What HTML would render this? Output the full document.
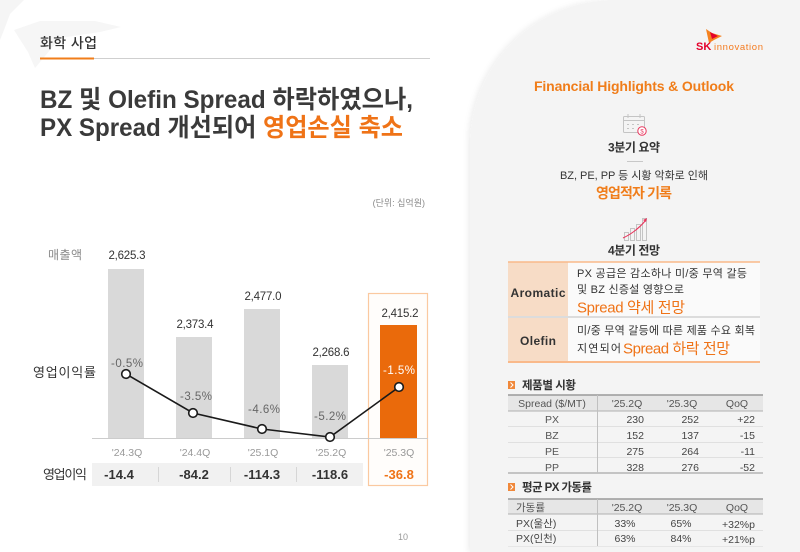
<!DOCTYPE html>
<html><head><meta charset="utf-8">
<style>
html,body{margin:0;padding:0;background:#fff;}
svg{display:block;}
text{font-family:"Liberation Sans","Noto Sans CJK KR",sans-serif;}
</style></head>
<body>
<svg width="800" height="552" viewBox="0 0 800 552" xmlns="http://www.w3.org/2000/svg">
<defs>
<filter id="sh" x="-10%" y="-10%" width="120%" height="120%">
<feDropShadow dx="-2" dy="0" stdDeviation="3" flood-color="#000" flood-opacity="0.07"/>
</filter>
</defs>
<rect width="800" height="552" fill="#fff"/>
<!-- watermark -->
<polygon points="0,0 24,0 10,14 4,30 0,40" fill="#f5f5f5"/>
<polygon points="14,30 40,21 95,21 121,27 100,32 60,38 35,68 28,52" fill="#f6f6f6"/>

<!-- header -->
<text x="40" y="48" font-size="14" fill="#333" font-weight="500" textLength="57">화학 사업</text>
<line x1="40" y1="58.5" x2="430" y2="58.5" stroke="#cfcfcf" stroke-width="1"/>
<line x1="40" y1="58.5" x2="94" y2="58.5" stroke="#f07d1a" stroke-width="2"/>

<!-- title -->
<text x="40" y="108" font-size="25" font-weight="bold" fill="#3a3a3a" textLength="373" lengthAdjust="spacingAndGlyphs">BZ 및 Olefin Spread 하락하였으나,</text>
<text x="40" y="136" font-size="25" font-weight="bold" fill="#3a3a3a" textLength="363" lengthAdjust="spacingAndGlyphs">PX Spread 개선되어 <tspan fill="#ef7317">영업손실 축소</tspan></text>

<!-- unit -->
<text x="425" y="206" font-size="9" fill="#8a8a8a" text-anchor="end">(단위: 십억원)</text>

<!-- labels -->
<text x="48" y="259" font-size="12" fill="#8a8a8a" textLength="34">매출액</text>
<text x="33" y="377" font-size="13" fill="#333" textLength="63">영업이익률</text>
<text x="43" y="479" font-size="13" fill="#333" textLength="44">영업이익</text>

<!-- highlight box -->
<rect x="368.5" y="293.5" width="59" height="192" fill="#fffdfb" stroke="#fbc9a0" stroke-width="1.2"/>

<!-- bars -->
<rect x="108" y="269" width="36" height="169" fill="#d9d9d9"/>
<rect x="176" y="337" width="36" height="101" fill="#d9d9d9"/>
<rect x="244" y="309" width="36" height="129" fill="#d9d9d9"/>
<rect x="312" y="365" width="36" height="73" fill="#d9d9d9"/>
<rect x="380" y="325" width="37" height="113" fill="#ea6a0b"/>
<line x1="92" y1="438.5" x2="428" y2="438.5" stroke="#cccccc" stroke-width="1"/>

<!-- value labels -->
<g font-size="11.5" fill="#333" text-anchor="middle">
<text x="127" y="259" textLength="37">2,625.3</text>
<text x="195" y="328" textLength="37">2,373.4</text>
<text x="263" y="300" textLength="37">2,477.0</text>
<text x="331" y="356" textLength="37">2,268.6</text>
<text x="400" y="317" textLength="37">2,415.2</text>
</g>

<!-- line -->
<polyline points="126,374 193,413 262,429 330,437 399,387" fill="none" stroke="#1a1a1a" stroke-width="1.6"/>
<g fill="#fff" stroke="#1a1a1a" stroke-width="1.6">
<circle cx="126" cy="374" r="4.3"/>
<circle cx="193" cy="413" r="4.3"/>
<circle cx="262" cy="429" r="4.3"/>
<circle cx="330" cy="437" r="4.3"/>
<circle cx="399" cy="387" r="4.3"/>
</g>
<g font-size="11.5" fill="#666" text-anchor="middle">
<text x="127" y="367" textLength="32">-0.5%</text>
<text x="196" y="400" textLength="32">-3.5%</text>
<text x="264" y="413" textLength="32">-4.6%</text>
<text x="330" y="420" textLength="32">-5.2%</text>
<text x="399" y="374" fill="#fff" textLength="32">-1.5%</text>
</g>

<!-- quarters -->
<g font-size="10.5" fill="#999" text-anchor="middle">
<text x="127" y="456">'24.3Q</text>
<text x="195" y="456">'24.4Q</text>
<text x="263" y="456">'25.1Q</text>
<text x="331" y="456">'25.2Q</text>
<text x="399" y="456">'25.3Q</text>
</g>

<!-- op income row -->
<rect x="92" y="463" width="271" height="23" fill="#f1f1f1"/>
<g stroke="#d6d6d6" stroke-width="1">
<line x1="158.5" y1="467" x2="158.5" y2="482"/>
<line x1="230.5" y1="467" x2="230.5" y2="482"/>
<line x1="296.5" y1="467" x2="296.5" y2="482"/>
</g>
<g font-size="13" font-weight="bold" fill="#333" text-anchor="middle">
<text x="119" y="479">-14.4</text>
<text x="194" y="479">-84.2</text>
<text x="262" y="479">-114.3</text>
<text x="330" y="479">-118.6</text>
<text x="399" y="479" fill="#ef7317">-36.8</text>
</g>

<text x="403" y="540" font-size="9" fill="#999" text-anchor="middle">10</text>

<!-- right panel -->
<path d="M470,552 L470,145 A145,145 0 0 1 615,0 L800,0 L800,552 Z" fill="#f4f4f4" filter="url(#sh)"/>

<!-- SK logo -->
<polygon points="706,29 712,33 722,36 714,40 709,43" fill="#f58220"/>
<polygon points="710,32 718,36 712,39" fill="#e4002b"/>
<text x="696" y="50" font-size="11" font-weight="bold" fill="#e4002b">SK</text>
<text x="714" y="50" font-size="9.5" fill="#f47b20" textLength="49">innovation</text>

<text x="634" y="91" font-size="14" font-weight="bold" fill="#f07d1a" text-anchor="middle" textLength="200">Financial Highlights &amp; Outlook</text>

<!-- calendar icon -->
<g fill="none" stroke="#c4c4c4" stroke-width="1">
<rect x="623.5" y="116.5" width="21" height="16" rx="1"/>
<line x1="623.5" y1="120.5" x2="644.5" y2="120.5"/>
<line x1="628" y1="114" x2="628" y2="118"/>
<line x1="640" y1="114" x2="640" y2="118"/>
<line x1="627" y1="124.5" x2="629" y2="124.5"/>
<line x1="632" y1="124.5" x2="634" y2="124.5"/>
<line x1="637" y1="124.5" x2="639" y2="124.5"/>
<line x1="627" y1="128.5" x2="629" y2="128.5"/>
<line x1="632" y1="128.5" x2="634" y2="128.5"/>
</g>
<circle cx="642" cy="131" r="4.2" fill="#fff" stroke="#e8365d" stroke-width="1"/>
<text x="642" y="133.5" font-size="6" fill="#e8365d" text-anchor="middle">$</text>

<text x="634" y="151.5" font-size="12" font-weight="bold" fill="#333" text-anchor="middle" textLength="52">3분기 요약</text>
<line x1="627" y1="161.5" x2="643" y2="161.5" stroke="#c8c8c8" stroke-width="1"/>
<text x="634" y="179" font-size="11" fill="#333" text-anchor="middle" textLength="148">BZ, PE, PP 등 시황 악화로 인해</text>
<text x="634" y="198" font-size="14" font-weight="bold" fill="#f07d1a" text-anchor="middle" textLength="76">영업적자 기록</text>

<!-- chart icon -->
<g fill="none" stroke="#c4c4c4" stroke-width="1">
<rect x="624.5" y="232.5" width="4" height="8"/>
<rect x="630.5" y="228.5" width="4" height="12"/>
<rect x="636.5" y="224.5" width="4" height="16"/>
<rect x="642.5" y="218.5" width="4" height="22"/>
</g>
<path d="M623,238 Q636,232 646,220" fill="none" stroke="#e8365d" stroke-width="1"/>
<polygon points="647,218 643,220 646,222" fill="#e8365d"/>

<text x="634" y="254.5" font-size="12" font-weight="bold" fill="#333" text-anchor="middle" textLength="52">4분기 전망</text>

<!-- outlook table -->
<rect x="508" y="262" width="60" height="100" fill="#f7dcc6"/>
<rect x="568" y="262" width="192" height="100" fill="#fafafa"/>
<line x1="508" y1="317" x2="760" y2="317" stroke="#dcdcdc" stroke-width="2"/>
<line x1="508" y1="262" x2="760" y2="262" stroke="#f9b98a" stroke-width="1.5"/>
<line x1="508" y1="362" x2="760" y2="362" stroke="#f9b98a" stroke-width="2"/>
<text x="538" y="297" font-size="12" font-weight="bold" fill="#333" text-anchor="middle" textLength="55">Aromatic</text>
<text x="538" y="345" font-size="12" font-weight="bold" fill="#333" text-anchor="middle" textLength="36">Olefin</text>
<g font-size="11" fill="#333">
<text x="577" y="277" textLength="170">PX 공급은 감소하나  미/중 무역 갈등</text>
<text x="577" y="293" textLength="107">및 BZ 신증설 영향으로</text>
<text x="577" y="334" textLength="178">미/중 무역 갈등에 따른 제품 수요 회복</text>
<text x="577" y="352" textLength="44">지연되어</text>
</g>
<text x="577" y="312.5" font-size="15" fill="#ef7317" textLength="108">Spread 약세 전망</text>
<text x="623" y="353.5" font-size="15" fill="#ef7317" textLength="107">Spread 하락 전망</text>

<!-- section 1 -->
<rect x="508" y="381" width="7" height="8" fill="#f0883a"/>
<polyline points="510.5,382.5 513,385 510.5,387.5" fill="none" stroke="#fff" stroke-width="1"/>
<text x="522" y="389" font-size="11.5" font-weight="bold" fill="#333" textLength="54">제품별 시황</text>

<rect x="508" y="395" width="255" height="16" fill="#e6e6e6"/>
<line x1="508" y1="395" x2="763" y2="395" stroke="#9a9a9a" stroke-width="1.5"/>
<line x1="508" y1="411" x2="763" y2="411" stroke="#b0b0b0" stroke-width="1"/>
<g stroke="#e0e0e0" stroke-width="1">
<line x1="508" y1="426.5" x2="763" y2="426.5"/>
<line x1="508" y1="442.5" x2="763" y2="442.5"/>
<line x1="508" y1="457.5" x2="763" y2="457.5"/>
</g>
<line x1="508" y1="473" x2="763" y2="473" stroke="#a8a8a8" stroke-width="1.2"/>
<line x1="597.5" y1="395" x2="597.5" y2="473" stroke="#c0c0c0" stroke-width="1"/>
<g font-size="10.5" fill="#555" text-anchor="middle">
<text x="552" y="407">Spread ($/MT)</text>
<text x="627" y="407">'25.2Q</text>
<text x="682" y="407">'25.3Q</text>
<text x="737" y="407">QoQ</text>
<text x="552" y="423">PX</text>
<text x="552" y="439">BZ</text>
<text x="552" y="455">PE</text>
<text x="552" y="471">PP</text>
</g>
<g font-size="10.5" fill="#444" text-anchor="end">
<text x="644" y="423">230</text><text x="699" y="423">252</text><text x="755" y="423">+22</text>
<text x="644" y="439">152</text><text x="699" y="439">137</text><text x="755" y="439">-15</text>
<text x="644" y="455">275</text><text x="699" y="455">264</text><text x="755" y="455">-11</text>
<text x="644" y="471">328</text><text x="699" y="471">276</text><text x="755" y="471">-52</text>
</g>

<!-- section 2 -->
<rect x="508" y="483" width="7" height="8" fill="#f0883a"/>
<polyline points="510.5,484.5 513,487 510.5,489.5" fill="none" stroke="#fff" stroke-width="1"/>
<text x="522" y="491" font-size="11.5" font-weight="bold" fill="#333" textLength="70">평균 PX 가동률</text>

<rect x="508" y="499" width="255" height="15" fill="#e6e6e6"/>
<line x1="508" y1="499" x2="763" y2="499" stroke="#9a9a9a" stroke-width="1.5"/>
<line x1="508" y1="514" x2="763" y2="514" stroke="#b0b0b0" stroke-width="1"/>
<line x1="508" y1="530.5" x2="763" y2="530.5" stroke="#e0e0e0" stroke-width="1"/>
<line x1="508" y1="546.5" x2="763" y2="546.5" stroke="#e6e6e6" stroke-width="1"/>
<line x1="597.5" y1="499" x2="597.5" y2="546" stroke="#c0c0c0" stroke-width="1"/>
<g font-size="10.5" fill="#555">
<text x="516" y="511">가동률</text>
<text x="627" y="511" text-anchor="middle">'25.2Q</text>
<text x="682" y="511" text-anchor="middle">'25.3Q</text>
<text x="737" y="511" text-anchor="middle">QoQ</text>
</g>
<g font-size="10.5" fill="#444">
<text x="516" y="527">PX(울산)</text>
<text x="625" y="527" text-anchor="middle">33%</text>
<text x="681" y="527" text-anchor="middle">65%</text>
<text x="755" y="528" text-anchor="end">+32%p</text>
<text x="516" y="542">PX(인천)</text>
<text x="625" y="542" text-anchor="middle">63%</text>
<text x="681" y="542" text-anchor="middle">84%</text>
<text x="755" y="543" text-anchor="end">+21%p</text>
</g>
</svg>
</body></html>
